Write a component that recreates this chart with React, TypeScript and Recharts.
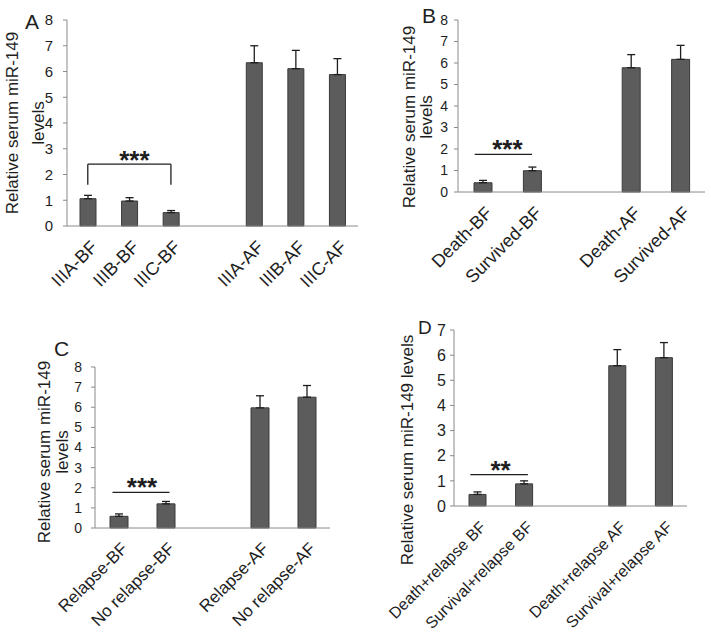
import React from "react";
import {
  BarChart,
  Bar,
  XAxis,
  YAxis,
  ErrorBar,
  ReferenceLine,
} from "recharts";

// Panel A - stage groups
const stageCats = ["IIIA-BF", "IIIB-BF", "IIIC-BF", "", "IIIA-AF", "IIIB-AF", "IIIC-AF"];
const stageMeans = [1.06, 0.97, 0.52, null, 6.34, 6.11, 5.88];
const stageSd = [0.13, 0.13, 0.08, null, 0.66, 0.71, 0.62];

// Panel B - death vs survived
const survivalCats = ["Death-BF", "Survived-BF", "", "Death-AF", "Survived-AF"];
const survivalMeans = [0.43, 0.99, null, 5.78, 6.17];
const survivalSd = [0.11, 0.17, null, 0.61, 0.65];

// Panel C - relapse
const relapseCats = ["Relapse-BF", "No relapse-BF", "", "Relapse-AF", "No relapse-AF"];
const relapseMeans = [0.58, 1.2, null, 5.97, 6.5];
const relapseSd = [0.12, 0.12, null, 0.6, 0.58];

// Panel D - death/survival with relapse
const comboCats = [
  "Death+relapse BF",
  "Survival+relapse BF",
  "",
  "Death+relapse AF",
  "Survival+relapse AF",
];
const comboMeans = [0.46, 0.88, null, 5.58, 5.9];
const comboSd = [0.1, 0.12, null, 0.64, 0.6];

const ticks8 = [0, 1, 2, 3, 4, 5, 6, 7, 8];
const ticks7 = [0, 1, 2, 3, 4, 5, 6, 7];

const FONT = "'Liberation Sans', Arial, sans-serif";
const BAR_FILL = "#5c5c5c";
const BAR_STROKE = "#3a3a3a";
const AXIS = "#8a8a8a";
const INK = "#1e1e1e";

function buildRows(cats: string[], means: (number | null)[], sd: (number | null)[]) {
  return cats.map((name, i) => ({
    name,
    value: means[i],
    err: sd[i] == null ? undefined : [0, sd[i]],
  }));
}

function SlantTick(props: any) {
  const { x, y, payload, fontSize, drop = 13 } = props;
  return (
    <g transform={`translate(${x + 1.5},${y + drop}) rotate(-45)`}>
      <text x={0} y={0} dy="0.72em" textAnchor="end" fontSize={fontSize} fill={INK}>
        {payload.value}
      </text>
    </g>
  );
}

// rotated axis title, one or two lines (own prop names so Label can't override them)
function YTitle(props: any) {
  const { lines, baseX, midY, gap = 18, size } = props;
  return (
    <text
      transform={`translate(${baseX},${midY}) rotate(-90)`}
      textAnchor="middle"
      fontSize={size}
      fill={INK}
    >
      {lines.map((t: string, i: number) => (
        <tspan key={t} x={0} y={i * gap}>
          {t}
        </tspan>
      ))}
    </text>
  );
}

function Stars(props: any) {
  const { viewBox, text, dx = 0, dy = 0 } = props;
  if (!viewBox) return null;
  return (
    <text
      x={viewBox.x + viewBox.width / 2 + dx}
      y={viewBox.y + dy}
      textAnchor="middle"
      fontSize={26}
      fontWeight="bold"
      fill={INK}
    >
      {text}
    </text>
  );
}

// line shape with small end adjustments
const sigLine = (dl: number, dr: number) => (p: any) => (
  <line x1={p.x1 + dl} y1={p.y1} x2={p.x2 + dr} y2={p.y2} stroke={INK} strokeWidth={1.3} />
);

interface PanelProps {
  rows: any[];
  width: number;
  height: number;
  margin: { top: number; right: number; left: number; bottom: number };
  xHeight: number;
  max: number;
  ticks: number[];
  tickFont: number;
  tickMargin: number;
  labelFont: number;
  labelDrop?: number;
  barSize: number;
  title: React.ReactElement;
  children?: React.ReactNode;
}

function Panel({
  rows,
  width,
  height,
  margin,
  xHeight,
  max,
  ticks,
  tickFont,
  tickMargin,
  labelFont,
  labelDrop = 13,
  barSize,
  title,
  children,
}: PanelProps) {
  return (
    <BarChart width={width} height={height} data={rows} margin={margin}>
      <XAxis
        dataKey="name"
        height={xHeight}
        interval={0}
        tickLine={false}
        tickSize={0}
        tickMargin={0}
        axisLine={{ stroke: AXIS }}
        tick={<SlantTick fontSize={labelFont} drop={labelDrop} />}
      />
      <YAxis
        width={40}
        domain={[0, max]}
        ticks={ticks}
        interval={0}
        tickSize={4}
        tickMargin={tickMargin}
        axisLine={{ stroke: AXIS }}
        tickLine={{ stroke: AXIS }}
        tick={{ fontSize: tickFont, fill: INK }}
        label={title}
      />
      <Bar
        dataKey="value"
        fill={BAR_FILL}
        stroke={BAR_STROKE}
        strokeWidth={1}
        barSize={barSize}
        isAnimationActive={false}
      >
        <ErrorBar dataKey="err" width={4} stroke={INK} strokeWidth={1.3} />
      </Bar>
      {children}
    </BarChart>
  );
}

const letterStyle = (left: number, top: number, size: number): React.CSSProperties => ({
  position: "absolute",
  left,
  top,
  fontSize: size,
  lineHeight: 1,
  color: INK,
});

export default function App() {
  return (
    <div
      style={{
        position: "absolute",
        left: 0,
        top: 0,
        width: 711,
        height: 640,
        background: "#fff",
        fontFamily: FONT,
        overflow: "hidden",
      }}
    >
      <div style={{ position: "absolute", left: 0, top: 0 }}>
        <Panel
          rows={buildRows(stageCats, stageMeans, stageSd)}
          width={370}
          height={320}
          margin={{ top: 20, right: 12, left: 27, bottom: 0 }}
          xHeight={94}
          max={8}
          ticks={ticks8}
          tickFont={15}
          tickMargin={10}
          labelFont={18}
          barSize={16}
          title={<YTitle lines={["Relative serum miR-149", "levels"]} baseX={18} gap={26} midY={123} size={17} />}
        >
          <ReferenceLine
            segment={[{ x: "IIIA-BF", y: 2.4 }, { x: "IIIC-BF", y: 2.4 }]}
            shape={sigLine(0, 0)}
            label={<Stars text="***" dx={5} dy={5} />}
          />
          <ReferenceLine segment={[{ x: "IIIA-BF", y: 2.4 }, { x: "IIIA-BF", y: 1.6 }]} shape={sigLine(0, 0)} />
          <ReferenceLine segment={[{ x: "IIIC-BF", y: 2.4 }, { x: "IIIC-BF", y: 1.6 }]} shape={sigLine(0, 0)} />
        </Panel>
      </div>
      <div style={{ position: "absolute", left: 370, top: 0 }}>
        <Panel
          rows={buildRows(survivalCats, survivalMeans, survivalSd)}
          width={341}
          height={320}
          margin={{ top: 20, right: 6, left: 48, bottom: 0 }}
          xHeight={128}
          max={8}
          ticks={ticks8}
          tickFont={14}
          tickMargin={6}
          labelFont={18}
          barSize={18}
          title={<YTitle lines={["Relative serum miR-149", "levels"]} baseX={45} gap={17} midY={117} size={17} />}
        >
          <ReferenceLine
            segment={[{ x: "Death-BF", y: 1.75 }, { x: "Survived-BF", y: 1.75 }]}
            shape={sigLine(-8, 0)}
            label={<Stars text="***" dx={0} dy={4} />}
          />
        </Panel>
      </div>
      <div style={{ position: "absolute", left: 0, top: 330 }}>
        <Panel
          rows={buildRows(relapseCats, relapseMeans, relapseSd)}
          width={370}
          height={310}
          margin={{ top: 37, right: 40, left: 55, bottom: 0 }}
          xHeight={112}
          max={8}
          ticks={ticks8}
          tickFont={14}
          tickMargin={9}
          labelFont={17}
          barSize={18}
          title={<YTitle lines={["Relative serum miR-149", "levels"]} baseX={50} gap={18} midY={122} size={17} />}
        >
          <ReferenceLine
            segment={[{ x: "Relapse-BF", y: 1.77 }, { x: "No relapse-BF", y: 1.77 }]}
            shape={sigLine(-6, 4)}
            label={<Stars text="***" dx={0} dy={4} />}
          />
        </Panel>
      </div>
      <div style={{ position: "absolute", left: 370, top: 300 }}>
        <Panel
          rows={buildRows(comboCats, comboMeans, comboSd)}
          width={341}
          height={340}
          margin={{ top: 30, right: 24, left: 44, bottom: 0 }}
          xHeight={134}
          max={7}
          ticks={ticks7}
          tickFont={16}
          tickMargin={4}
          labelFont={16}
          labelDrop={14}
          barSize={17}
          title={<YTitle lines={["Relative  serum miR-149 levels"]} baseX={43} midY={150} size={17} />}
        >
          <ReferenceLine
            segment={[{ x: "Death+relapse BF", y: 1.25 }, { x: "Survival+relapse BF", y: 1.25 }]}
            shape={sigLine(-7, 4)}
            label={<Stars text="**" dx={0} dy={4} />}
          />
        </Panel>
      </div>
      <div style={letterStyle(25, 11, 21)}>A</div>
      <div style={letterStyle(422, 5, 21)}>B</div>
      <div style={letterStyle(54, 338, 21)}>C</div>
      <div style={letterStyle(418, 318, 19)}>D</div>
    </div>
  );
}
